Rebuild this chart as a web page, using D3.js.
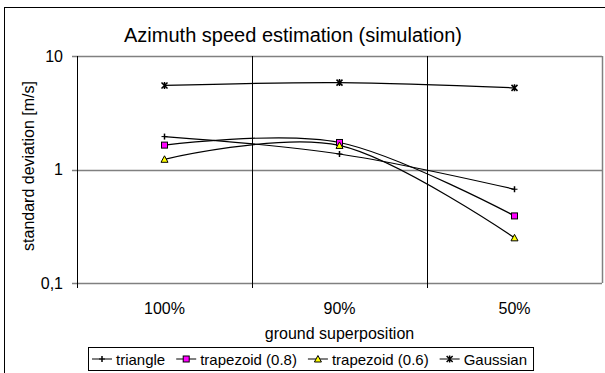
<!DOCTYPE html>
<html><head><meta charset="utf-8">
<script src="https://cdn.jsdelivr.net/npm/d3@7"></script>
<style>body{margin:0;background:#fff}svg{display:block}text{font-family:"Liberation Sans",Arial,sans-serif;fill:#000}</style>
</head><body><svg id="c" width="605" height="373"></svg>
<script>
const categories = ["100%", "90%", "50%"];
const seriesNames = ["triangle", "trapezoid (0.8)", "trapezoid (0.6)", "Gaussian"];
const triangle = [1.95, 1.37, 0.67];
const trapezoid08 = [1.64, 1.73, 0.39];
const trapezoid06 = [1.23, 1.63, 0.25];
const gaussian = [5.50, 5.83, 5.24];
const yTicks = [0.1, 1, 10];
const yTickLabels = ["0,1", "1", "10"];

const series = [
  {name: seriesNames[0], values: triangle, marker: "plus"},
  {name: seriesNames[1], values: trapezoid08, marker: "square", fill: "#ff00ff"},
  {name: seriesNames[2], values: trapezoid06, marker: "triangle", fill: "#ffff00"},
  {name: seriesNames[3], values: gaussian, marker: "star"}
];

const svg = d3.select("#c");
const L = 77, R = 602, T = 56, B = 283;
const x = d3.scaleBand().domain(categories).range([L, R]);
const y = d3.scaleLog().domain([0.1, 10]).range([B, T]);

// outer frame
svg.append("rect").attr("x", 4.5).attr("y", 7.5).attr("width", 640).attr("height", 400)
  .attr("fill", "none").attr("stroke", "#000");

// horizontal gridlines
svg.append("g").selectAll("line").data(yTicks).join("line")
  .attr("x1", L - 5).attr("x2", R).attr("y1", d => Math.round(y(d)) + 0.5).attr("y2", d => Math.round(y(d)) + 0.5)
  .attr("stroke", "#808080").attr("stroke-width", 1.5);
// right plot border
svg.append("line").attr("x1", R + 0.5).attr("x2", R + 0.5).attr("y1", T).attr("y2", B)
  .attr("stroke", "#808080").attr("stroke-width", 1.5);

// vertical category separators
const seps = categories.slice(1).map(c => x(c));
svg.append("g").selectAll("line").data(seps).join("line")
  .attr("x1", d => Math.round(d) + 0.5).attr("x2", d => Math.round(d) + 0.5)
  .attr("y1", T).attr("y2", B + 5).attr("stroke", "#000");
// left axis line
svg.append("line").attr("x1", L + 0.5).attr("x2", L + 0.5).attr("y1", T).attr("y2", B + 5).attr("stroke", "#000");

// y tick labels
svg.append("g").selectAll("text").data(yTicks).join("text")
  .attr("x", L - 14).attr("y", d => y(d) + 5.5).attr("text-anchor", "end")
  .attr("font-size", 16).text((d, i) => yTickLabels[i]);

// x category labels
svg.append("g").selectAll("text").data(categories).join("text")
  .attr("x", d => x(d) + x.bandwidth() / 2).attr("y", 314).attr("text-anchor", "middle")
  .attr("font-size", 16).text(d => d);

// titles
svg.append("text").attr("x", 293).attr("y", 42).attr("text-anchor", "middle").attr("font-size", 20)
  .text("Azimuth speed estimation (simulation)");
svg.append("text").attr("x", (L + R) / 2).attr("y", 339).attr("text-anchor", "middle").attr("font-size", 16)
  .text("ground superposition");
svg.append("text").attr("transform", "translate(34,166) rotate(-90)").attr("text-anchor", "middle")
  .attr("font-size", 16).text("standard deviation [m/s]");

// lines
const line = d3.line().x((d, i) => x(categories[i]) + x.bandwidth() / 2).y(d => y(d)).curve(d3.curveCardinal.tension(0));
svg.append("g").selectAll("path").data(series).join("path")
  .attr("d", d => line(d.values)).attr("fill", "none").attr("stroke", "#000").attr("stroke-width", 1.2);

function drawMarker(g, m, cx, cy) {
  if (m.marker === "plus") {
    g.append("line").attr("x1", cx).attr("x2", cx).attr("y1", cy - 3).attr("y2", cy + 3).attr("stroke", "#000").attr("stroke-width", 1.5);
    g.append("line").attr("x1", cx - 3).attr("x2", cx + 3).attr("y1", cy).attr("y2", cy).attr("stroke", "#000").attr("stroke-width", 1);
  } else if (m.marker === "square") {
    g.append("rect").attr("x", cx - 3).attr("y", cy - 3).attr("width", 6).attr("height", 6)
      .attr("fill", m.fill).attr("stroke", "#000").attr("stroke-width", 1);
  } else if (m.marker === "triangle") {
    g.append("path").attr("d", `M${cx},${cy - 3.5}L${cx + 3.5},${cy + 3}L${cx - 3.5},${cy + 3}Z`)
      .attr("fill", m.fill).attr("stroke", "#000").attr("stroke-width", 1);
  } else if (m.marker === "star") {
    g.append("path").attr("d", `M${cx - 3},${cy - 3}L${cx + 3},${cy + 3}M${cx - 3},${cy + 3}L${cx + 3},${cy - 3}M${cx},${cy - 3.5}V${cy + 3.5}`)
      .attr("fill", "none").attr("stroke", "#000").attr("stroke-width", 1.5);
  }
}
const mg = svg.append("g");
series.forEach(s => s.values.forEach((v, i) => drawMarker(mg, s, x(categories[i]) + x.bandwidth() / 2, y(v))));

// legend
const lg = svg.append("g");
const box = lg.append("rect").attr("y", 347.5).attr("height", 23).attr("fill", "#fff").attr("stroke", "#000");
let cx = 92;
const ly = 359;
series.forEach(s => {
  lg.append("line").attr("x1", cx).attr("x2", cx + 20).attr("y1", ly).attr("y2", ly).attr("stroke", "#000");
  drawMarker(lg, s, cx + 10, ly);
  const t = lg.append("text").attr("x", cx + 24).attr("y", ly + 5.5).attr("font-size", 15).text(s.name);
  cx += 24 + t.node().getComputedTextLength() + 11;
});
box.attr("x", 88.5).attr("width", cx - 11 + 6 - 88);
</script></body></html>
